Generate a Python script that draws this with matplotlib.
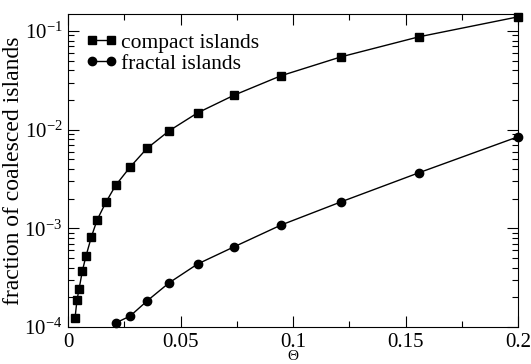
import numpy as np
import matplotlib
matplotlib.use("Agg")
import matplotlib.pyplot as plt
from matplotlib.ticker import MultipleLocator, LogLocator, NullFormatter

plt.rcParams['font.family'] = ['Liberation Serif', 'DejaVu Serif']
plt.rcParams['mathtext.fontset'] = 'stix'

# compact islands
theta_compact = [0.0031, 0.0040, 0.0049, 0.0064, 0.0080, 0.0104, 0.0129, 0.0168,
                 0.0212, 0.0275, 0.0351, 0.0450, 0.0576, 0.0739, 0.0947, 0.1215,
                 0.1560, 0.2000]
frac_compact = [1.22e-4, 1.88e-4, 2.41e-4, 3.72e-4, 5.24e-4, 8.2e-4, 1.21e-3, 1.83e-3,
                2.73e-3, 4.15e-3, 6.46e-3, 9.75e-3, 1.48e-2, 2.24e-2, 3.52e-2, 5.48e-2,
                8.73e-2, 0.139]

# fractal islands
theta_fractal = [0.0212, 0.0276, 0.0353, 0.0450, 0.0576, 0.0739, 0.0947, 0.1215,
                 0.1560, 0.2000]
frac_fractal = [1.1e-4, 1.29e-4, 1.85e-4, 2.81e-4, 4.35e-4, 6.51e-4, 1.08e-3, 1.86e-3,
                3.66e-3, 8.47e-3]

fig = plt.figure(figsize=(5.31, 3.64), dpi=100)
ax = fig.add_axes([68 / 531, 1 - 327 / 364, 450 / 531, 313 / 364])

ax.plot(theta_compact, frac_compact, 'k-', marker='s', ms=5.5, lw=1.0,
        label='compact islands', clip_on=False, zorder=3)
ax.plot(theta_fractal, frac_fractal, 'k-', marker='o', ms=6.0, lw=1.0,
        label='fractal islands', clip_on=False, zorder=3)

ax.set_yscale('log')
ax.set_xlim(0, 0.2)
ax.set_ylim(1e-4, 0.1486)

ax.set_xticks([0, 0.05, 0.1, 0.15, 0.2])
ax.set_xticklabels(['0', '0.05', '0.1', '0.15', '0.2'])
ax.xaxis.set_minor_locator(MultipleLocator(0.025))
ax.yaxis.set_major_locator(LogLocator(base=10, numticks=10))
ax.yaxis.set_minor_locator(LogLocator(base=10, subs=np.arange(2, 10), numticks=10))
ax.yaxis.set_minor_formatter(NullFormatter())

ax.tick_params(which='both', direction='in', top=True, right=True, labelsize=15, width=0.8)
ax.tick_params(which='major', length=8)
ax.tick_params(which='minor', length=4)
ax.tick_params(axis='x', pad=4)
ax.tick_params(axis='y', pad=4)

ax.set_xlabel('Θ', fontsize=11, labelpad=-1)
ax.set_ylabel('fraction of coalesced islands', fontsize=17, labelpad=0)

ax.legend(loc='upper left', bbox_to_anchor=(0.038, 0.94), frameon=False,
          fontsize=15.5, handlelength=1.5, handletextpad=0.15, borderaxespad=0,
          labelspacing=0.05, numpoints=2, borderpad=0)

fig.savefig('out.png', dpi=100)
